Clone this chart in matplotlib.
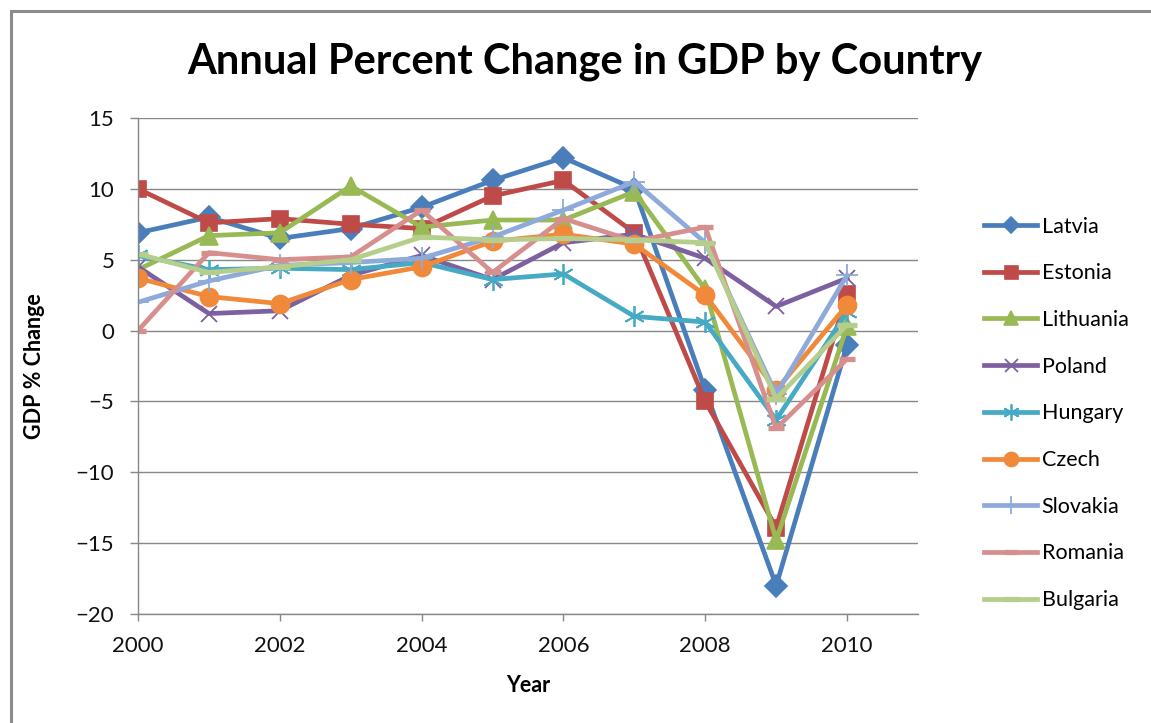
import matplotlib
matplotlib.use("Agg")
import matplotlib.pyplot as plt
from matplotlib.patches import Rectangle

plt.rcParams["font.family"] = ["Lato", "DejaVu Sans"]

# Data
years = [2000, 2001, 2002, 2003, 2004, 2005, 2006, 2007, 2008, 2009, 2010]
countries = ["Latvia", "Estonia", "Lithuania", "Poland", "Hungary",
             "Czech", "Slovakia", "Romania", "Bulgaria"]

latvia = [6.9, 8.0, 6.5, 7.2, 8.7, 10.6, 12.2, 10.0, -4.2, -18.0, -1.0]
estonia = [10.0, 7.6, 7.9, 7.5, 7.2, 9.5, 10.6, 6.9, -5.0, -13.9, 2.6]
lithuania = [4.3, 6.7, 6.9, 10.2, 7.3, 7.8, 7.8, 9.8, 2.9, -14.8, 0.3]
poland = [4.5, 1.2, 1.4, 3.9, 5.3, 3.6, 6.2, 6.8, 5.1, 1.7, 3.7]
hungary = [5.3, 4.3, 4.4, 4.3, 4.8, 3.6, 4.0, 1.0, 0.6, -6.3, 1.3]
czech = [3.7, 2.4, 1.9, 3.6, 4.5, 6.3, 6.8, 6.1, 2.5, -4.2, 1.8]
slovakia = [2.0, 3.5, 4.6, 4.8, 5.1, 6.6, 8.5, 10.5, 6.2, -4.5, 3.9]
romania = [0.0, 5.5, 5.0, 5.2, 8.5, 4.1, 7.9, 6.3, 7.3, -6.9, -2.0]
bulgaria = [5.4, 4.1, 4.5, 5.0, 6.6, 6.4, 6.5, 6.4, 6.2, -4.8, 0.4]

series = [latvia, estonia, lithuania, poland, hungary,
          czech, slovakia, romania, bulgaria]

# Excel 2007 style
colors = ["#4A7EBB", "#BE4B48", "#98B954", "#7D60A0", "#46AAC5",
          "#F08A3A", "#8EAADB", "#D78F8E", "#B5CE8B"]
markers = ["D", "s", "^", "x", (6, 2, 0), "o", "+", "_", "_"]
msizes = [11, 12, 13, 12, 15, 13, 16, 11, 15]

fig = plt.figure(figsize=(11.51, 7.23), dpi=100)
fig.patch.set_facecolor("white")

# outer chart frame (cropped at right/bottom)
fig.patches.append(Rectangle((11 / 1151, -0.1), 1.2, 1 - 11 / 723 + 0.1,
                             transform=fig.transFigure, fill=False,
                             edgecolor="#8C8C8C", linewidth=2.2))

ax = fig.add_axes([138 / 1151, 1 - 614 / 723, (918 - 138) / 1151, (614 - 118) / 723])

for name, vals, c, m, ms in zip(countries, series, colors, markers, msizes):
    mew = 1.2
    if m == "_":
        mew = 3.8
    elif m in ("x", "+") or isinstance(m, tuple):
        mew = 1.3
    ax.plot(years, vals, color=c, linewidth=3.4, marker=m, markersize=ms,
            markeredgecolor=c, markerfacecolor=c, markeredgewidth=mew,
            solid_joinstyle="round", label=name)

ax.set_xlim(2000, 2011)
ax.set_ylim(-20, 15)
ax.set_xticks(years[::2])
ax.set_yticks(range(-20, 16, 5))
ax.yaxis.grid(True, color="#878787", linewidth=1.0)
ax.set_axisbelow(True)

for s in ("top", "right"):
    ax.spines[s].set_visible(False)
for s in ("left", "bottom"):
    ax.spines[s].set_color("#878787")
    ax.spines[s].set_linewidth(1.0)

ax.tick_params(axis="both", direction="out", color="#878787", width=1.0,
               labelsize=16, labelcolor="#111111")
ax.tick_params(axis="y", length=6, pad=11)
ax.tick_params(axis="x", length=5, pad=11)

fig.text(585 / 1151, 1 - 62 / 723, "Annual Percent Change in GDP by Country",
         ha="center", va="center", fontsize=30, fontweight="bold")
fig.text(528 / 1151, 1 - 686 / 723, "Year", ha="center", va="center",
         fontsize=15.5, fontweight="bold")
fig.text(35 / 1151, 1 - 366 / 723, "GDP % Change", ha="center", va="center",
         rotation=90, fontsize=15.5, fontweight="bold")

fig.legend(loc="upper left", bbox_to_anchor=(975 / 1151, 1 - 208 / 723),
           frameon=False, fontsize=15.5, handlelength=2.5, handletextpad=0.2,
           labelspacing=1.24, borderaxespad=0, markerscale=0.78)

fig.savefig("out.png", dpi=100, facecolor="white")
